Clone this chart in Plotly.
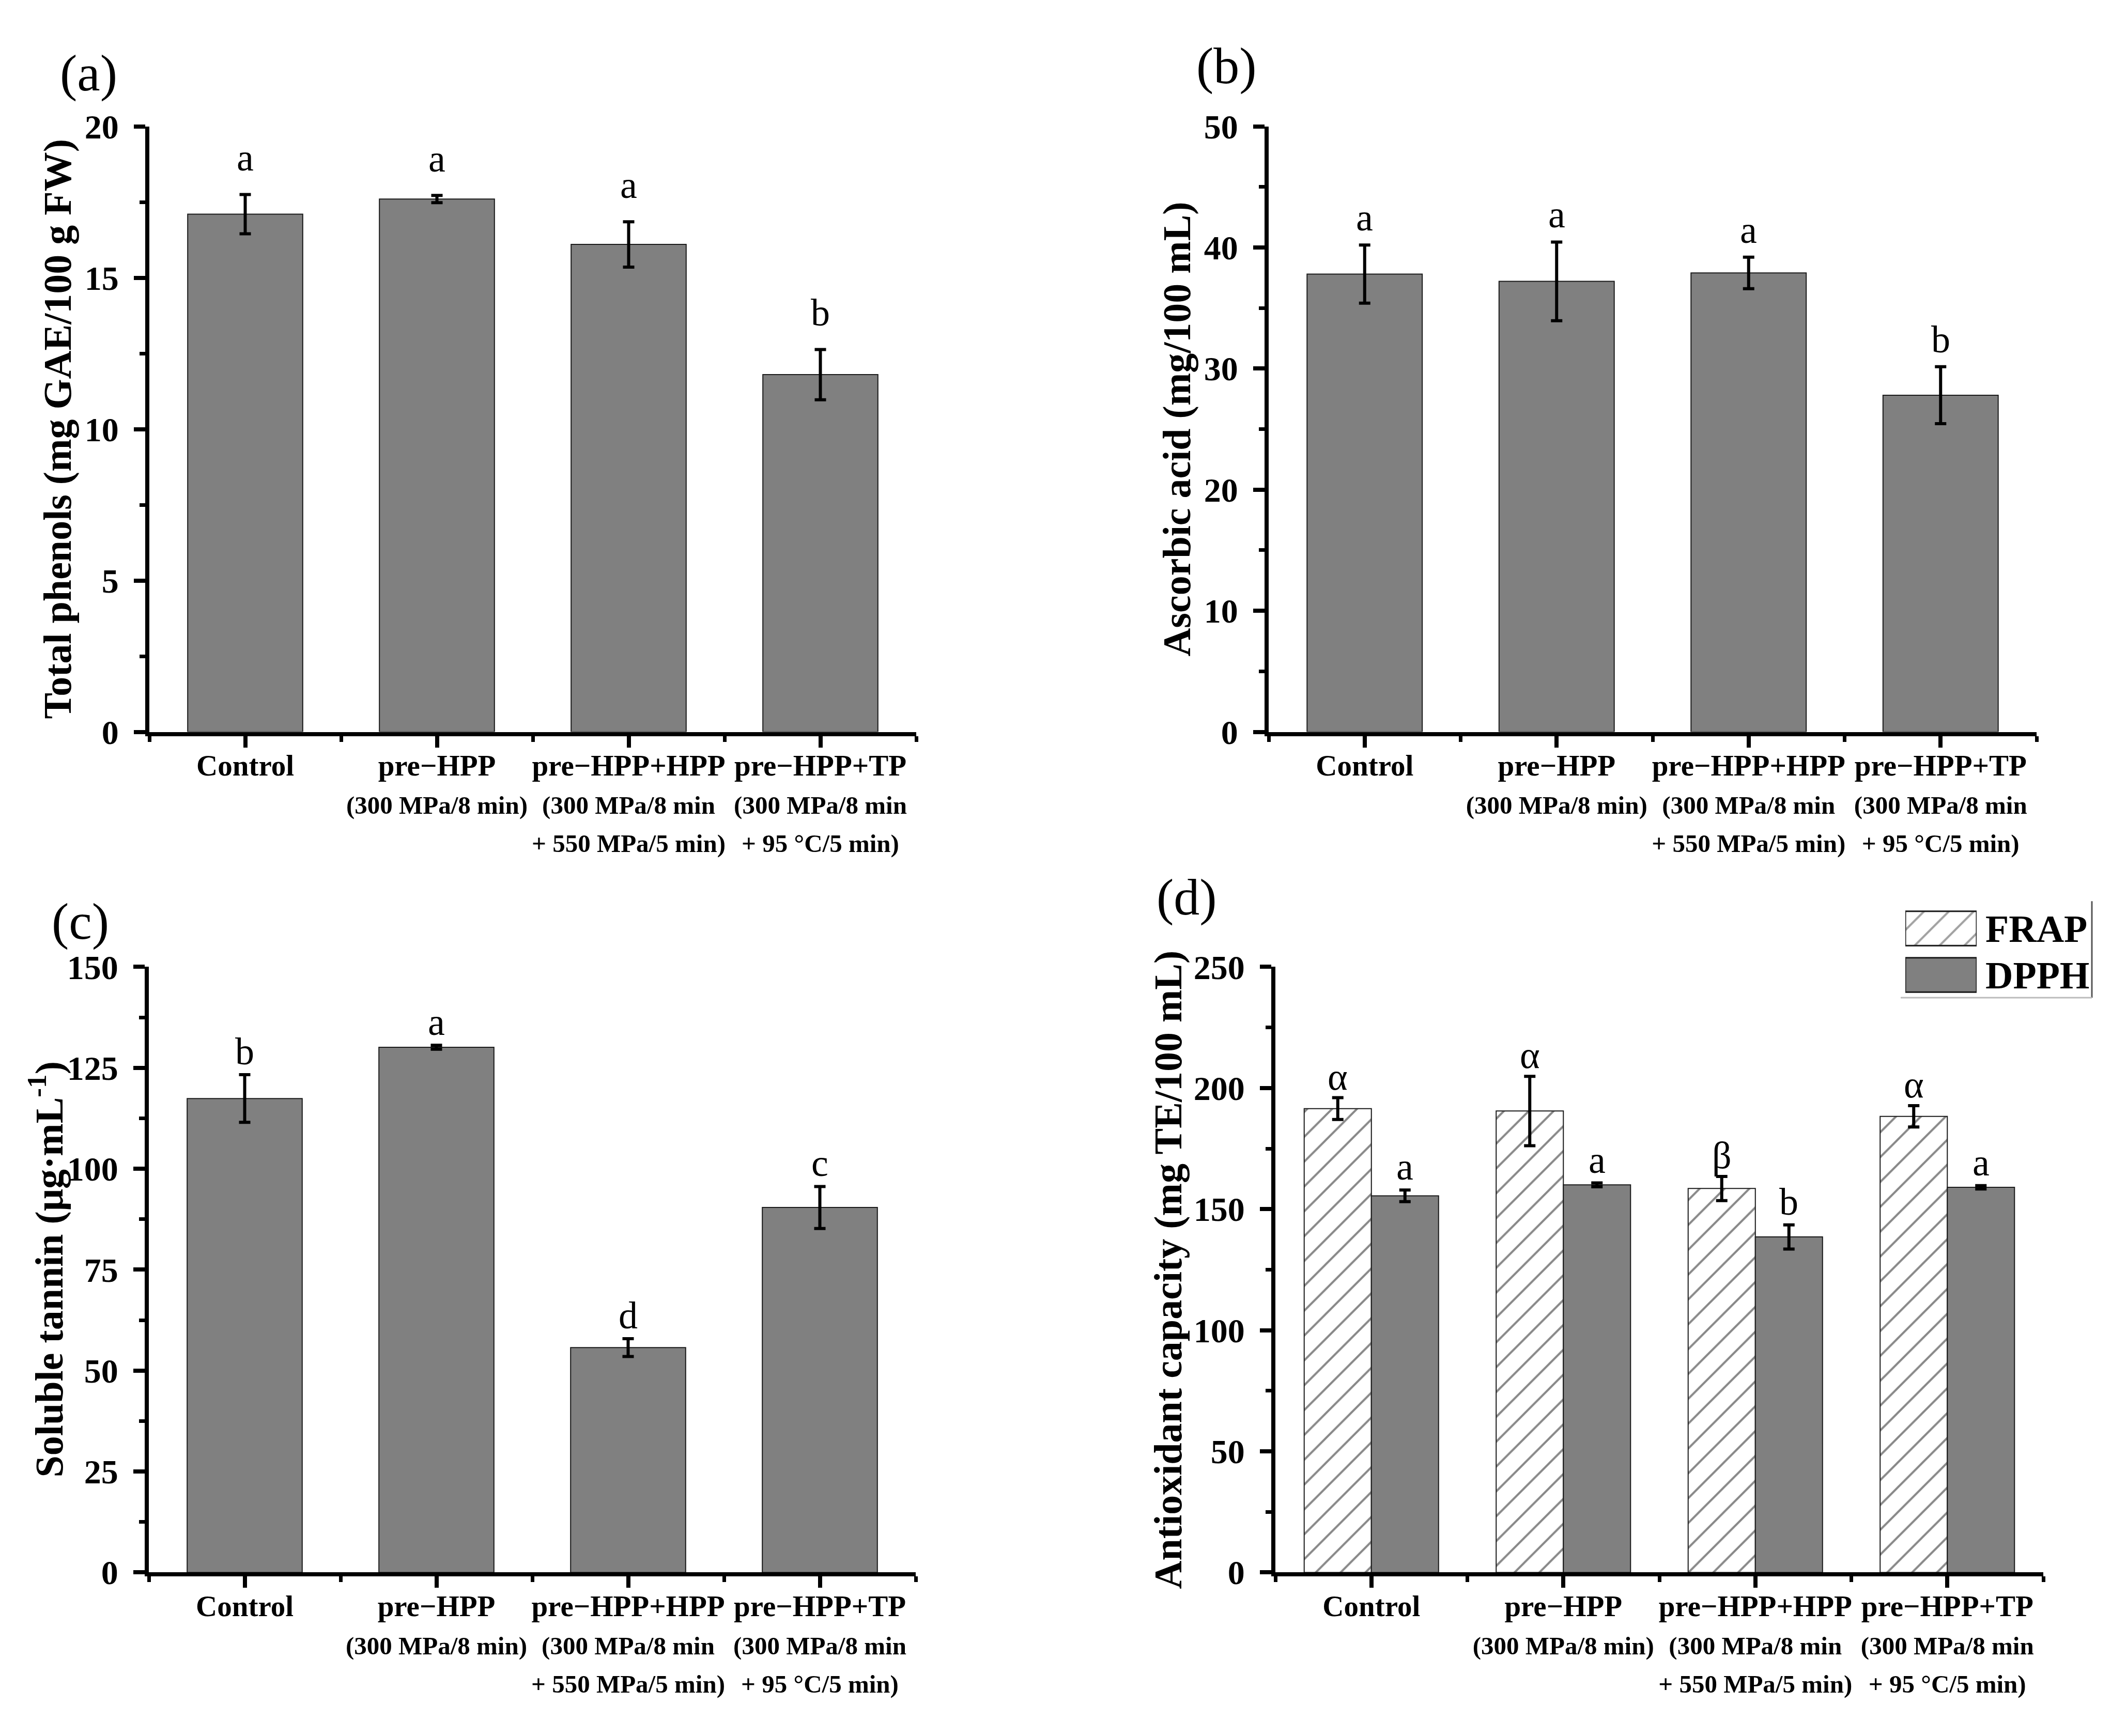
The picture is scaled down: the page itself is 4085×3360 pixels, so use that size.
import plotly.graph_objects as go

FONT = "Liberation Serif"
W, H = 4085, 3360

# treatments (bold first line, smaller condition lines below)
groups = ["Control", "pre−HPP", "pre−HPP+HPP", "pre−HPP+TP"]
conditions = [
    [],
    ["(300 MPa/8 min)"],
    ["(300 MPa/8 min", "+ 550 MPa/5 min)"],
    ["(300 MPa/8 min", "+ 95 °C/5 min)"],
]

# (a) total phenols
phenols = [17.1, 17.6, 16.1, 11.8]
phenols_sd = [0.65, 0.12, 0.75, 0.83]
phenols_sig = ["a", "a", "a", "b"]

# (b) ascorbic acid
ascorbic = [37.8, 37.2, 37.9, 27.8]
ascorbic_sd = [2.4, 3.25, 1.3, 2.35]
ascorbic_sig = ["a", "a", "a", "b"]

# (c) soluble tannin
tannin = [117.4, 130.1, 55.7, 90.4]
tannin_sd = [5.9, 0.5, 2.2, 5.2]
tannin_sig = ["b", "a", "d", "c"]

# (d) antioxidant capacity
frap = [191.5, 190.5, 158.5, 188.3]
frap_sd = [4.5, 14.3, 5.0, 4.4]
frap_sig = ["α", "α", "β", "α"]
dpph = [155.5, 160.0, 138.5, 159.0]
dpph_sd = [2.4, 0.8, 5.0, 0.7]
dpph_sig = ["a", "a", "b", "a"]

legend_names = ["FRAP", "DPPH"]

GRAY = "#808080"
EDGE = "#1a1a1a"
xs = list(range(len(groups)))


def tick_label(name, lines):
    parts = [name] + ['<span style="font-size:49px">%s</span>' % l for l in lines]
    return "<br>".join(parts)


ticktext = [tick_label(g, c) for g, c in zip(groups, conditions)]

fig = go.Figure()

err = dict(type="data", color="black", thickness=6, width=11)
hatch = dict(shape="/", fgcolor="#111111", bgcolor="white", size=34, solidity=0.12)

single = [
    ("x", "y", phenols, phenols_sd),
    ("x2", "y2", ascorbic, ascorbic_sd),
    ("x3", "y3", tannin, tannin_sd),
]
for xa, ya, vals, sd in single:
    fig.add_trace(go.Bar(
        x=xs, y=vals, width=0.6, xaxis=xa, yaxis=ya,
        marker=dict(color=GRAY, line=dict(color=EDGE, width=2)),
        error_y=dict(array=sd, **err),
    ))

fig.add_trace(go.Bar(
    x=xs, y=frap, name="FRAP", xaxis="x4", yaxis="y4",
    marker=dict(color="white", pattern=hatch, line=dict(color=EDGE, width=2)),
    error_y=dict(array=frap_sd, **err),
))
fig.add_trace(go.Bar(
    x=xs, y=dpph, name="DPPH", xaxis="x4", yaxis="y4",
    marker=dict(color=GRAY, line=dict(color=EDGE, width=2)),
    error_y=dict(array=dpph_sd, **err),
))

# legend swatches drawn on a small helper axis
fig.add_trace(go.Bar(
    x=[1, 1], y=legend_names, orientation="h", width=0.74,
    xaxis="x5", yaxis="y5",
    marker=dict(
        color=["white", GRAY],
        pattern=dict(shape=["/", ""], fgcolor="#111111", bgcolor=["white", GRAY],
                     size=34, solidity=0.12),
        line=dict(color=EDGE, width=3),
    ),
))

BARGAP = 0.3
half = (1 - BARGAP) / 4

axis_line = dict(showline=True, linewidth=8, linecolor="black", showgrid=False,
                 zeroline=False, ticks="outside", ticklen=22, tickwidth=8,
                 tickcolor="black")


def xaxis(domain, anchor):
    return dict(
        domain=domain, anchor=anchor, range=[-0.5, len(groups) - 0.5],
        tickmode="array", tickvals=xs, ticktext=ticktext,
        tickfont=dict(family=FONT, size=57, color="black", weight="bold"),
        ticklabelstandoff=-14,
        minor=dict(tickvals=[i - 0.5 for i in range(len(groups) + 1)],
                   ticks="outside", ticklen=11, tickwidth=7, tickcolor="black"),
        **axis_line,
    )


def yaxis(domain, anchor, top, step):
    return dict(
        domain=domain, anchor=anchor, range=[0, top], dtick=step,
        tickfont=dict(family=FONT, size=66, color="black", weight="bold"),
        ticklabelstandoff=16,
        minor=dict(dtick=step / 2, ticks="outside", ticklen=11, tickwidth=7,
                   tickcolor="black"),
        **axis_line,
    )


top_row = [1 - 1403 / H, 1 - 205 / H]
bot_row = [1 - 3066 / H, 1 - 1868 / H]
a_x = [281 / W, 1765 / W]
b_x = [2447 / W, 3933 / W]
c_x = [280 / W, 1764 / W]
d_x = [2460 / W, 3946 / W]

annotations = []


def letters(xref, yref, xpos, vals, sd, sig, shift):
    for x, v, s, t in zip(xpos, vals, sd, sig):
        annotations.append(dict(
            x=x, y=v + s, xref=xref, yref=yref, text=t, showarrow=False,
            yanchor="bottom", yshift=shift,
            font=dict(family=FONT, size=74, color="black"),
        ))


letters("x", "y", xs, phenols, phenols_sd, phenols_sig, 28)
letters("x2", "y2", xs, ascorbic, ascorbic_sd, ascorbic_sig, 10)
letters("x3", "y3", xs, tannin, tannin_sd, tannin_sig, 2)
letters("x4", "y4", [i - half for i in xs], frap, frap_sd, frap_sig, -2)
letters("x4", "y4", [i + half for i in xs], dpph, dpph_sd, dpph_sig, 2)

titles = [
    ("Total phenols (mg GAE/100 g FW)", 104, sum(top_row) / 2),
    ("Ascorbic acid (mg/100 mL)", 2270, sum(top_row) / 2),
    ("Soluble tannin (μg·mL<sup>-1</sup>)", 82, sum(bot_row) / 2),
    ("Antioxidant capacity (mg TE/100 mL)", 2252, sum(bot_row) / 2),
]
for text, px, py in titles:
    annotations.append(dict(
        x=px / W, y=py, xref="paper", yref="paper", text=text, textangle=-90,
        showarrow=False, xanchor="center", yanchor="middle",
        font=dict(family=FONT, size=76, color="black", weight="bold"),
    ))

panels = [("(a)", 106, 100), ("(b)", 2305, 85), ("(c)", 90, 1778), ("(d)", 2228, 1730)]
for text, px, py in panels:
    annotations.append(dict(
        x=px / W, y=1 - py / H, xref="paper", yref="paper", text=text,
        showarrow=False, xanchor="left", yanchor="middle",
        font=dict(family=FONT, size=100, color="black"),
    ))

fig.update_layout(
    width=W, height=H,
    margin=dict(l=0, r=0, t=0, b=0),
    paper_bgcolor="white", plot_bgcolor="white",
    showlegend=False,
    barmode="group", bargap=BARGAP, bargroupgap=0,
    xaxis=xaxis(a_x, "y"), yaxis=yaxis(top_row, "x", 20, 5),
    xaxis2=xaxis(b_x, "y2"), yaxis2=yaxis(top_row, "x2", 50, 10),
    xaxis3=xaxis(c_x, "y3"), yaxis3=yaxis(bot_row, "x3", 150, 25),
    xaxis4=xaxis(d_x, "y4"), yaxis4=yaxis(bot_row, "x4", 250, 50),
    xaxis5=dict(domain=[3679 / W, 3817 / W], anchor="y5", range=[0, 1],
                visible=False, fixedrange=True),
    yaxis5=dict(domain=[1 - 1930 / H, 1 - 1746 / H], anchor="x5", side="right",
                autorange="reversed", showline=False, showgrid=False,
                zeroline=False, ticks="", ticklabelstandoff=16,
                tickfont=dict(family=FONT, size=74, color="black", weight="bold")),
    annotations=annotations,
    shapes=[
        dict(type="line", xref="paper", yref="paper",
             x0=4040 / W, x1=4040 / W, y0=1 - 1738 / H, y1=1 - 1929 / H,
             line=dict(color="#555555", width=3)),
        dict(type="line", xref="paper", yref="paper",
             x0=3670 / W, x1=4040 / W, y0=1 - 1929 / H, y1=1 - 1929 / H,
             line=dict(color="#bbbbbb", width=3)),
    ],
)

fig.write_html("out.html")
